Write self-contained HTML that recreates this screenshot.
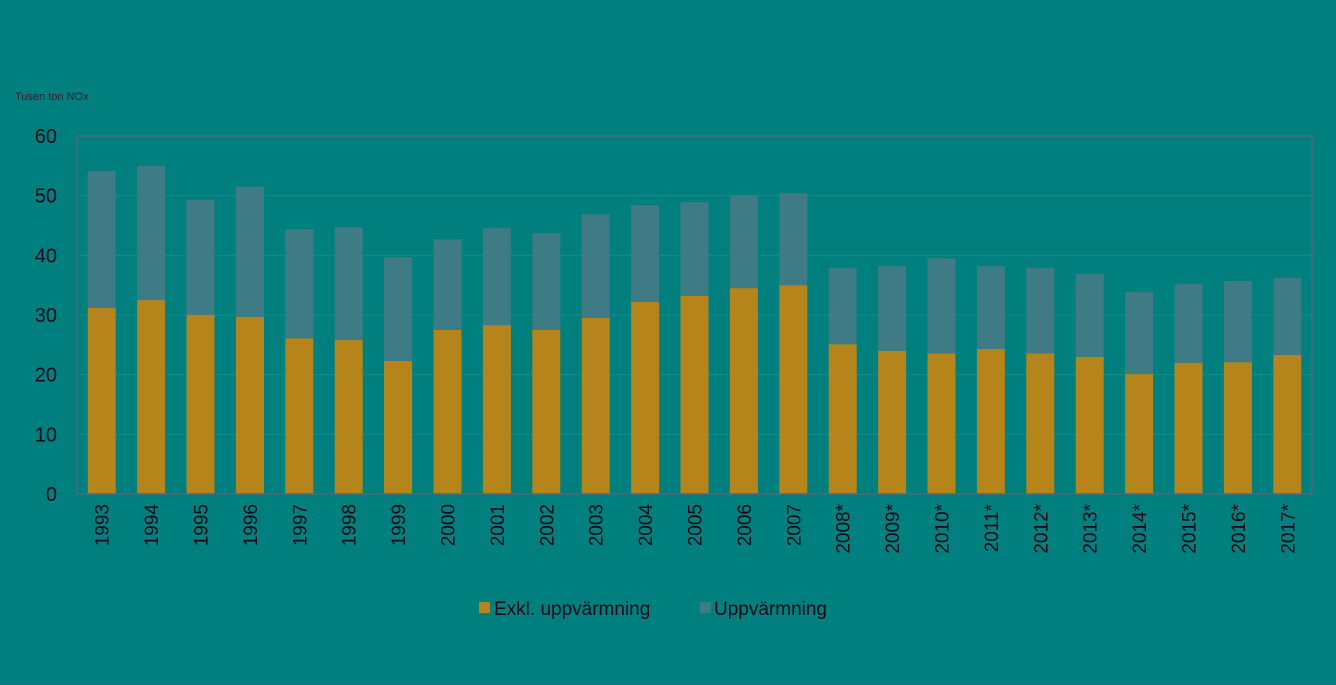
<!DOCTYPE html>
<html><head><meta charset="utf-8"><style>
body{margin:0;background:#007f7f;}
svg{display:block;font-family:"Liberation Sans",sans-serif;}
</style></head><body>
<svg id="c" width="1336" height="685">
<rect width="1336" height="685" fill="#007f7f"/>
<text x="15" y="100" font-size="11" fill="#3a1a2a">Tusen ton NOx</text>
<g id="grid"></g><g id="bars"></g><g id="xl"></g><g id="yl"></g>
<rect x="77" y="136" width="1235" height="358" fill="none" stroke="#4a6a7a" stroke-width="1.5"/>
<g>
<rect x="479" y="602" width="11" height="11" fill="#b5851c"/>
<text x="494" y="615" font-size="19" fill="#1a0a14">Exkl. uppvärmning</text>
<rect x="700" y="602" width="11" height="11" fill="#3f7b85"/>
<text x="714" y="615" font-size="19" fill="#1a0a14">Uppvärmning</text>
</g>
</svg>
<script>
const categories=["1993","1994","1995","1996","1997","1998","1999","2000","2001","2002","2003","2004","2005","2006","2007","2008*","2009*","2010*","2011*","2012*","2013*","2014*","2015*","2016*","2017*"];
const exkl=[31.2,32.5,30,29.7,26.1,25.8,22.3,27.5,28.3,27.5,29.5,32.2,33.2,34.5,35,25.1,24,23.6,24.3,23.6,23,20.1,22,22.1,23.3];
const uppv=[22.9,22.5,19.3,21.8,18.3,18.9,17.4,15.2,16.3,16.2,17.4,16.2,15.7,15.6,15.4,12.8,14.2,15.9,13.9,14.3,13.9,13.8,13.2,13.6,12.9];
const yTicks=[0,10,20,30,40,50,60];
const X0=77,X1=1312,Y0=494,Y1=136,YMAX=60;
const step=(X1-X0)/categories.length,bw=28;
const y=v=>Y0-(v/YMAX)*(Y0-Y1);
const xc=i=>X0+step*(i+0.5);
const NS="http://www.w3.org/2000/svg";
function mk(t,a,p){const e=document.createElementNS(NS,t);for(const k in a)e.setAttribute(k,a[k]);document.getElementById(p).appendChild(e);return e;}
yTicks.forEach(t=>{
  if(t>0&&t<YMAX){const g=mk('line',{x1:X0,x2:X1,y1:y(t),y2:y(t),stroke:'#1a8a88','stroke-width':1},'grid');
  
  }
  const l=mk('text',{x:57,y:y(t)+7,'font-size':20,fill:'#1a0a14','text-anchor':'end'},'yl');
  l.textContent=t;
  
  
});
categories.forEach((c,i)=>{
  const x=xc(i)-bw/2;
  const a=mk('rect',{x:x,y:y(exkl[i]),width:bw,height:Y0-y(exkl[i]),fill:'#b5851c'},'bars');
  
  
  const b=mk('rect',{x:x,y:y(exkl[i]+uppv[i]),width:bw,height:y(exkl[i])-y(exkl[i]+uppv[i]),fill:'#3f7b85'},'bars');
  
  
  const t=mk('text',{x:0,y:0,'font-size':19,fill:'#1a0a14','text-anchor':'end',transform:`translate(${xc(i)+7},504) rotate(-90)`},'xl');
  t.textContent=c;
  
  
});
</script>
</body></html>
